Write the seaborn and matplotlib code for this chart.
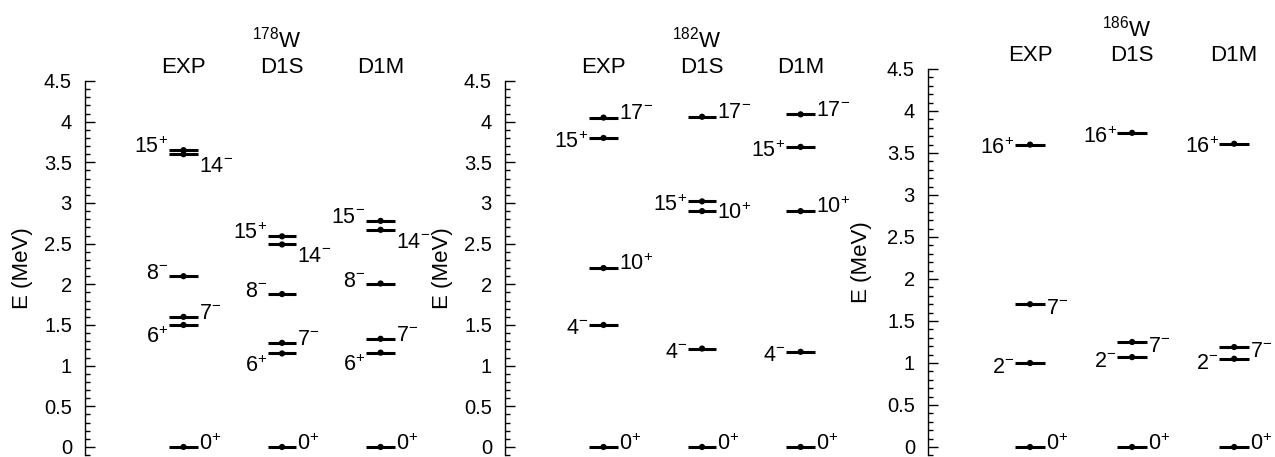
import numpy as np
import pandas as pd
import matplotlib
matplotlib.use("Agg")
import matplotlib.pyplot as plt
from matplotlib.ticker import MultipleLocator, FormatStrFormatter
import seaborn as sns

# Niveles de energia (MeV)
columnas = ["EXP", "D1S", "D1M"]

w178_exp_E = [0.0, 1.50, 1.60, 2.10, 3.60, 3.65]
w178_exp_J = ["0+", "6+", "7-", "8-", "14-", "15+"]
w178_d1s_E = [0.0, 1.15, 1.28, 1.88, 2.49, 2.59]
w178_d1s_J = ["0+", "6+", "7-", "8-", "14-", "15+"]
w178_d1m_E = [0.0, 1.16, 1.33, 2.01, 2.67, 2.78]
w178_d1m_J = ["0+", "6+", "7-", "8-", "14-", "15-"]

w182_exp_E = [0.0, 1.50, 2.20, 3.80, 4.05]
w182_exp_J = ["0+", "4-", "10+", "15+", "17-"]
w182_d1s_E = [0.0, 1.21, 2.90, 3.02, 4.06]
w182_d1s_J = ["0+", "4-", "10+", "15+", "17-"]
w182_d1m_E = [0.0, 1.17, 2.90, 3.69, 4.09]
w182_d1m_J = ["0+", "4-", "10+", "15+", "17-"]

w186_exp_E = [0.0, 1.00, 1.70, 3.60]
w186_exp_J = ["0+", "2-", "7-", "16+"]
w186_d1s_E = [0.0, 1.07, 1.25, 3.74]
w186_d1s_J = ["0+", "2-", "7-", "16+"]
w186_d1m_E = [0.0, 1.05, 1.19, 3.61]
w186_d1m_J = ["0+", "2-", "7-", "16+"]

# Colocacion de etiquetas: lado y desplazamiento vertical (px)
lay178 = {"0+": ("r", 4), "6+": ("l", -11), "7-": ("r", 5), "8-": ("l", 4),
          "14-": ("r", -10.5), "15+": ("l", 4.5), "15-": ("l", 5)}
lay182 = {"0+": ("r", 4), "4-": ("l", -2), "10+": ("r", 5),
          "15+": ("l", -2.5), "17-": ("r", 6)}
lay186 = {"0+": ("r", 4), "2-": ("l", -2.5), "7-": ("r", -2.5), "16+": ("l", -2.5)}
extra182 = {("D1S", "10+"): ("r", -1)}

ANCHO = 0.145
PX = 0.72  # puntos por pixel a 100 dpi

sns.set_style("white")
plt.rcParams["font.family"] = ["Liberation Sans", "DejaVu Sans"]
plt.rcParams["mathtext.fontset"] = "custom"
plt.rcParams["mathtext.rm"] = "Liberation Sans"
plt.rcParams["mathtext.default"] = "regular"
plt.rcParams["text.color"] = "black"
plt.rcParams["axes.labelcolor"] = "black"
plt.rcParams["ytick.color"] = "black"
plt.rcParams["axes.edgecolor"] = "black"


def etiqueta(J):
    return r"$%s^{%s}$" % (J[:-1], J[-1])


def dibujar(ax, nucleo, energias, espines, lay, extra={}):
    filas = []
    for i, (E, J) in enumerate(zip(energias, espines)):
        for e, j in zip(E, J):
            filas.append({"x": i + 1, "E": e, "J": j, "col": columnas[i]})
    df = pd.DataFrame(filas)

    ax.hlines(df["E"], df["x"] - ANCHO, df["x"] + ANCHO, color="black", lw=2.2, zorder=2)
    sns.scatterplot(data=df, x="x", y="E", color="black", s=20, edgecolor="none",
                    ax=ax, zorder=3, legend=False)

    for _, f in df.iterrows():
        lado, dy = extra.get((f["col"], f["J"]), lay[f["J"]])
        base = dy * PX - 5.2
        if lado == "r":
            ax.annotate(etiqueta(f["J"]), xy=(f["x"] + ANCHO, f["E"]), xytext=(0.5, base),
                        textcoords="offset points", ha="left", va="baseline",
                        fontsize=15.5, annotation_clip=False)
        else:
            ax.annotate(etiqueta(f["J"]), xy=(f["x"] - ANCHO, f["E"]), xytext=(-0.5, base),
                        textcoords="offset points", ha="right", va="baseline",
                        fontsize=15.5, annotation_clip=False)

    for i, c in enumerate(columnas):
        ax.annotate(c, xy=(i + 1, 4.5), xytext=(0, 8 * PX), textcoords="offset points",
                    ha="center", va="baseline", fontsize=16, annotation_clip=False)
    ax.annotate(r"$^{%s}$W" % nucleo, xy=(1.95, 4.5), xytext=(0, 33 * PX),
                textcoords="offset points", ha="center", va="baseline",
                fontsize=16, annotation_clip=False)

    ax.set_xlim(0, 3.4)
    ax.set_ylim(-0.1, 4.5)
    ax.set_xticks([])
    ax.set_xlabel("")
    ax.set_ylabel("E (MeV)", fontsize=16)
    for s in ["top", "right", "bottom"]:
        ax.spines[s].set_visible(False)
    ax.spines["left"].set_linewidth(1.0)
    ax.spines["left"].set_color("black")
    ax.yaxis.set_major_locator(MultipleLocator(0.5))
    ax.yaxis.set_minor_locator(MultipleLocator(0.1))
    ax.yaxis.set_major_formatter(FormatStrFormatter("%g"))
    ax.tick_params(axis="y", which="major", direction="in", length=7.2, width=1.0,
                   pad=9.4, labelsize=14.5, left=True, color="black", labelcolor="black")
    ax.tick_params(axis="y", which="minor", direction="in", length=3.6, width=1.0,
                   left=True, color="black")


fig = plt.figure(figsize=(12.75, 4.57), dpi=100)
ax1 = fig.add_axes([85 / 1275, 1.9 / 457, 335 / 1275, 374.1 / 457])
ax2 = fig.add_axes([505 / 1275, 1.9 / 457, 335 / 1275, 374.1 / 457])
ax3 = fig.add_axes([928 / 1275, 1.6 / 457, 347 / 1275, 386.4 / 457])

dibujar(ax1, "178", [w178_exp_E, w178_d1s_E, w178_d1m_E],
        [w178_exp_J, w178_d1s_J, w178_d1m_J], lay178)
dibujar(ax2, "182", [w182_exp_E, w182_d1s_E, w182_d1m_E],
        [w182_exp_J, w182_d1s_J, w182_d1m_J], lay182, extra182)
dibujar(ax3, "186", [w186_exp_E, w186_d1s_E, w186_d1m_E],
        [w186_exp_J, w186_d1s_J, w186_d1m_J], lay186)

ax1.yaxis.set_label_coords(-0.155, 0.5)
ax2.yaxis.set_label_coords(-0.155, 0.5)
ax3.yaxis.set_label_coords(-0.161, 0.5)

fig.savefig("out.png", dpi=100)
